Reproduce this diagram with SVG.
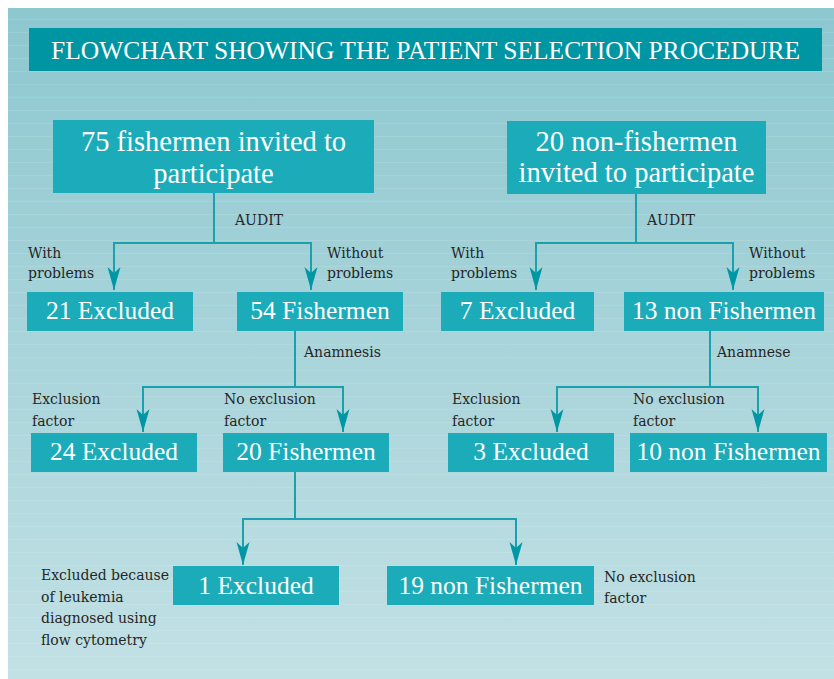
<svg xmlns="http://www.w3.org/2000/svg" width="834" height="679" viewBox="0 0 834 679">
<defs>
<linearGradient id="bg" x1="0" y1="0" x2="0" y2="1">
<stop offset="0" stop-color="#8dc7cf"/>
<stop offset="0.5" stop-color="#a8d4da"/>
<stop offset="1" stop-color="#c2e1e5"/>
</linearGradient>
<pattern id="stripes" x="0" y="8" width="20" height="13" patternUnits="userSpaceOnUse">
<rect x="0" y="11" width="20" height="1" fill="#ffffff" fill-opacity="0.1"/>
</pattern>
<marker id="arr" viewBox="0 -7 24 14" refX="23" refY="0" markerWidth="24" markerHeight="14" markerUnits="userSpaceOnUse" orient="auto">
<path d="M0,-6.5 L23,0 L0,6.5 L6,0 Z" fill="#0097a5"/>
</marker>
<style>
.box{fill:#1babb9;}
.bt{font-family:"Liberation Serif","Times New Roman",serif;fill:#ffffff;text-anchor:middle;}
.big{font-size:28.5px;}
.mid{font-size:25.5px;}
.lbl{font-family:"DejaVu Serif","Liberation Serif",serif;font-size:14px;fill:#262626;}
.c{fill:none;stroke:#1ba1ae;stroke-width:2;}
.a{marker-end:url(#arr);}
</style>
</defs>
<rect x="8" y="8" width="826" height="671" fill="url(#bg)"/>
<rect x="8" y="8" width="826" height="671" fill="url(#stripes)"/>

<g id="title">
<rect x="29" y="28" width="793" height="43" fill="#0095a2"/>
<text x="425.5" y="59" font-family="'Liberation Serif','Times New Roman',serif" font-size="25.5" fill="#ffffff" text-anchor="middle">FLOWCHART SHOWING THE PATIENT SELECTION PROCEDURE</text>
</g>

<g id="connectors">
<path class="c" d="M214,193 V243"/>
<path class="c a" d="M214,243 H114 V290"/>
<path class="c a" d="M214,243 H311 V290"/>
<path class="c" d="M636,194 V243"/>
<path class="c a" d="M636,243 H536 V290"/>
<path class="c a" d="M636,243 H733 V290"/>
<path class="c" d="M295,331 V387"/>
<path class="c a" d="M295,387 H143 V432"/>
<path class="c a" d="M295,387 H343 V432"/>
<path class="c" d="M710,331 V387"/>
<path class="c a" d="M710,387 H557 V432"/>
<path class="c a" d="M710,387 H758 V432"/>
<path class="c" d="M295,472 V519"/>
<path class="c a" d="M295,519 H243 V565"/>
<path class="c a" d="M295,519 H516 V565"/>
</g>

<g id="labels">
<text class="lbl" x="235" y="225">AUDIT</text>
<text class="lbl" x="647" y="225">AUDIT</text>
<text class="lbl" x="28" y="258">With</text>
<text class="lbl" x="28" y="278">problems</text>
<text class="lbl" x="327" y="258">Without</text>
<text class="lbl" x="327" y="278">problems</text>
<text class="lbl" x="451" y="258">With</text>
<text class="lbl" x="451" y="278">problems</text>
<text class="lbl" x="749" y="258">Without</text>
<text class="lbl" x="749" y="278">problems</text>
<text class="lbl" x="304" y="357">Anamnesis</text>
<text class="lbl" x="717" y="357">Anamnese</text>
<text class="lbl" x="32" y="404">Exclusion</text>
<text class="lbl" x="32" y="426">factor</text>
<text class="lbl" x="224" y="404">No exclusion</text>
<text class="lbl" x="224" y="426">factor</text>
<text class="lbl" x="452" y="404">Exclusion</text>
<text class="lbl" x="452" y="426">factor</text>
<text class="lbl" x="633" y="404">No exclusion</text>
<text class="lbl" x="633" y="426">factor</text>
<text class="lbl" x="41" y="580">Excluded because</text>
<text class="lbl" x="41" y="602">of leukemia</text>
<text class="lbl" x="41" y="623">diagnosed using</text>
<text class="lbl" x="41" y="645">flow cytometry</text>
<text class="lbl" x="604" y="582">No exclusion</text>
<text class="lbl" x="604" y="603">factor</text>
</g>

<g id="n75">
<rect class="box" x="53" y="120" width="321" height="73"/>
<text class="bt big" x="213.5" y="151">75 fishermen invited to</text>
<text class="bt big" x="213.5" y="183">participate</text>
</g>
<g id="n20nf">
<rect class="box" x="507" y="121" width="259" height="73"/>
<text class="bt big" x="636.5" y="151">20 non-fishermen</text>
<text class="bt big" x="636.5" y="182">invited to participate</text>
</g>
<g id="n21ex">
<rect class="box" x="27" y="292" width="166" height="39"/>
<text class="bt mid" x="110" y="319">21 Excluded</text>
</g>
<g id="n54f">
<rect class="box" x="237" y="292" width="166" height="39"/>
<text class="bt mid" x="320" y="319">54 Fishermen</text>
</g>
<g id="n7ex">
<rect class="box" x="441" y="292" width="153" height="39"/>
<text class="bt mid" x="517.5" y="319">7 Excluded</text>
</g>
<g id="n13nf">
<rect class="box" x="624" y="292" width="200" height="39"/>
<text class="bt mid" x="724" y="319">13 non Fishermen</text>
</g>
<g id="n24ex">
<rect class="box" x="31" y="433" width="166" height="39"/>
<text class="bt mid" x="114" y="460">24 Excluded</text>
</g>
<g id="n20f">
<rect class="box" x="223" y="433" width="166" height="39"/>
<text class="bt mid" x="306" y="460">20 Fishermen</text>
</g>
<g id="n3ex">
<rect class="box" x="448" y="433" width="166" height="39"/>
<text class="bt mid" x="531" y="460">3 Excluded</text>
</g>
<g id="n10nf">
<rect class="box" x="630" y="433" width="197" height="39"/>
<text class="bt mid" x="728.5" y="460">10 non Fishermen</text>
</g>
<g id="n1ex">
<rect class="box" x="173" y="566" width="166" height="39"/>
<text class="bt mid" x="256" y="594">1 Excluded</text>
</g>
<g id="n19nf">
<rect class="box" x="387" y="566" width="207" height="39"/>
<text class="bt mid" x="490.5" y="594">19 non Fishermen</text>
</g>
</svg>
